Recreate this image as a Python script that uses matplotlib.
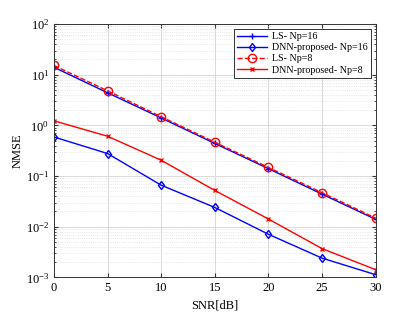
import matplotlib
matplotlib.use('Agg')
import matplotlib.pyplot as plt
import numpy as np

# SNR points and NMSE curves
snr = [0, 5, 10, 15, 20, 25, 30]
ls_np16 = [14.0, 4.4, 1.40, 0.44, 0.140, 0.044, 0.0140]
dnn_np16 = [0.59, 0.278, 0.066, 0.024, 0.0071, 0.0024, 0.00113]
ls_np8 = [15.2, 4.8, 1.48, 0.465, 0.148, 0.047, 0.0148]
dnn_np8 = [1.23, 0.61, 0.205, 0.052, 0.0142, 0.0037, 0.00142]

plt.rcParams['font.family'] = ['Liberation Serif', 'DejaVu Serif']
plt.rcParams['mathtext.fontset'] = 'stix'

fig = plt.figure(figsize=(4.15, 3.12), dpi=100)
ax = fig.add_axes([0.130, 0.111, 0.775, 0.812])

ax.semilogy(snr, ls_np16, '-', color='#0000ff', marker='+', markersize=5, lw=1.0, label='LS- Np=16')
ax.semilogy(snr, dnn_np16, '-', color='#0000ff', marker='d', markersize=4.5, mfc='none', mew=1.0, lw=1.0,
            label='DNN-proposed- Np=16')
ax.semilogy(snr, ls_np8, '--', color='#ff0000', marker='o', markersize=6, mfc='none', mew=1.0, lw=1.0,
            label='LS- Np=8')
ax.semilogy(snr, dnn_np8, '-', color='#ff0000', marker='x', markersize=3.5, lw=1.0, label='DNN-proposed- Np=8')

ax.set_xlim(0, 30)
ax.set_ylim(1e-3, 1e2)
ax.set_xticks(snr)
ax.set_xlabel('SNR[dB]', fontsize=9, labelpad=4)
ax.set_ylabel('NMSE', fontsize=9, labelpad=1)

ax.grid(True, which='major', color='#d9d9d9', lw=0.7)
ax.grid(True, which='minor', color='#d9d9d9', lw=0.5, ls=':')
ax.tick_params(which='both', direction='in', top=True, right=True, labelsize=9, color='#333333')
ax.tick_params(which='major', length=3)
ax.tick_params(which='minor', length=1.5)
for s in ax.spines.values():
    s.set_color('#333333')
    s.set_linewidth(0.7)

leg = ax.legend(loc='upper right', fontsize=7.2, fancybox=False, framealpha=1, edgecolor='#333333',
                borderpad=0.3, labelspacing=0.22, handlelength=3.0, handletextpad=0.5,
                borderaxespad=0.5)
leg.get_frame().set_linewidth(0.7)

fig.savefig('out.png', dpi=100)
